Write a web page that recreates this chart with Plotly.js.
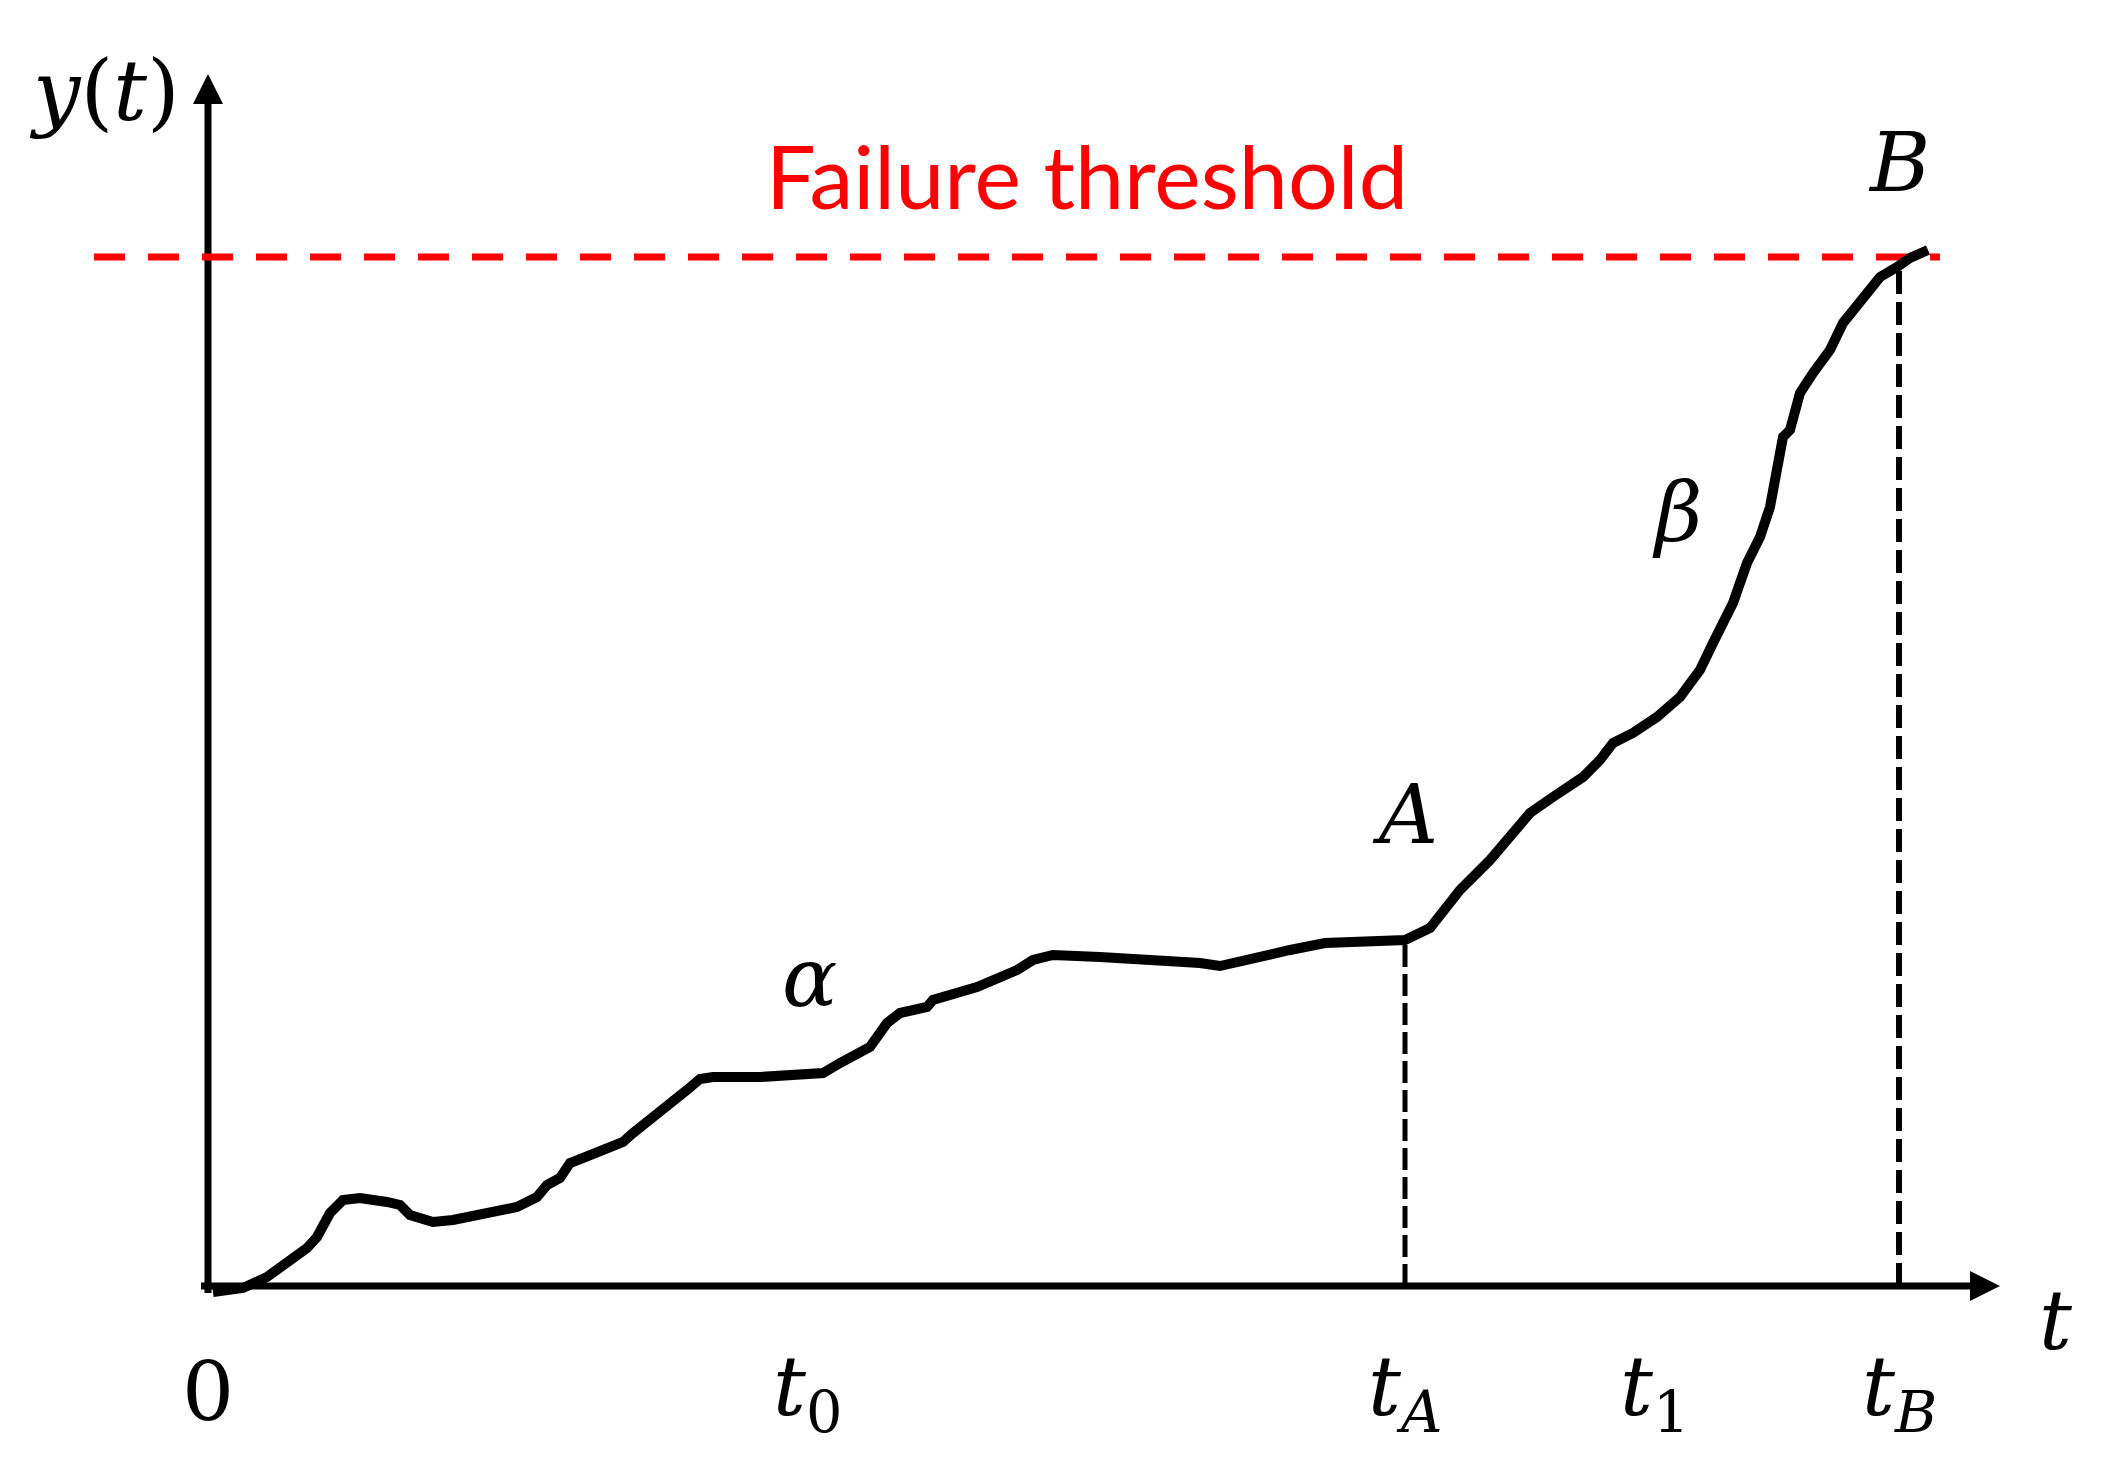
<!DOCTYPE html>
<html>
<head>
<meta charset="utf-8">
<script src="https://cdn.plot.ly/plotly-3.0.1.min.js"></script>
<style>html,body{margin:0;padding:0;background:#fff;}#chart{width:2109px;height:1476px;}</style>
</head>
<body>
<div id="chart"></div>
<script>
// Degradation path y(t)
const tCurve = [0.5,3.5,5.9,7.9,9.9,10.9,12.2,13.5,15.2,17.9,19.2,20.2,22.5,24.5,28.2,30.9,32.9,33.9,35.2,36.2,37.5,39.2,41.5,42.5,44.2,46.5,47.9,49.2,50.5,55.2,61.5,63.2,66.2,67.9,69.2,71.9,72.5,76.9,80.9,82.5,84.5,89.2,96.5,99.2,101.2,104.3,108.2,111.7,119.7,122.2,123.9,125.2,128.2,130.5,132.2,134.5,137.5,139.2,140.5,142.5,144.9,147.2,149.2,150.5,152.5,153.9,155.2,156.2,156.9,157.5,158.2,159.2,160.5,162.2,163.5,164.5,165.9,167.2,168.9,170.2,172.0];
const yCurve = [-0.6,-0.2,0.9,2.3,3.8,4.9,7.3,8.6,8.8,8.4,8.1,7.1,6.4,6.6,7.3,7.9,8.9,10.1,10.8,12.3,12.8,13.4,14.4,15.3,16.6,18.3,19.6,20.7,20.9,20.9,21.3,22.3,23.9,26.3,27.3,27.9,28.6,29.9,31.6,32.6,33.1,32.9,32.6,32.3,32.0,32.6,33.6,34.3,34.6,35.8,37.8,39.6,42.6,45.3,47.3,48.9,50.9,52.6,54.3,55.3,56.9,58.9,61.6,64.3,68.3,72.3,74.9,77.9,81.6,84.9,85.6,89.3,91.3,93.6,96.3,97.6,99.6,100.9,101.9,102.8,103.6];

// Threshold and characteristic times
const thresholdY = 102.9;
const thresholdSpan = [-11.4, 173.2];
const timeA = 119.7, yA = 34.6;
const timeB = 169.1, yB = 102.4;
const tickTimes = [0, 59.9, 119.7, 144.6, 169.1];
const tickLabels = ['0', '<i>t</i><sub>0</sub>', '<i>t</i><sub><i>A</i></sub>', '<i>t</i><sub>1</sub>', '<i>t</i><sub><i>B</i></sub>'];
const axisEndT = 179.2, axisEndY = 121.2;
const axisStart = -0.7;

const mathFont = {family: 'DejaVu Serif', size: 82, color: '#000'};

const traces = [
  // axes
  {x: [axisStart, axisEndT - 1.5], y: [0, 0], mode: 'lines', line: {color: '#000', width: 7}, hoverinfo: 'skip'},
  {x: [0, 0], y: [axisStart, axisEndY - 1.5], mode: 'lines', line: {color: '#000', width: 7}, hoverinfo: 'skip'},
  {x: [axisEndT], y: [0], mode: 'markers', marker: {symbol: 'arrow-right', size: 30, color: '#000', line: {width: 0}}, hoverinfo: 'skip'},
  {x: [0], y: [axisEndY], mode: 'markers', marker: {symbol: 'arrow-up', size: 30, color: '#000', line: {width: 0}}, hoverinfo: 'skip'},
  // threshold and guide lines
  {x: thresholdSpan, y: [thresholdY, thresholdY], mode: 'lines', line: {color: '#ff0000', width: 7, dash: '31px,23px'}, hoverinfo: 'skip'},
  {x: [timeA, timeA], y: [0, yA], mode: 'lines', line: {color: '#000', width: 5, dash: '22px,7px'}, hoverinfo: 'skip'},
  {x: [timeB, timeB], y: [0, yB], mode: 'lines', line: {color: '#000', width: 6, dash: '23px,8px'}, hoverinfo: 'skip'},
  // degradation path
  {x: tCurve, y: yCurve, mode: 'lines', line: {color: '#000', width: 10}, hoverinfo: 'skip'}
];

const annotations = [
  {x: -10.4, y: 119.5, text: '<i>y</i>(<i>t</i>)', showarrow: false, font: {family: 'DejaVu Serif', size: 84, color: '#000'}, xanchor: 'center', yanchor: 'middle'},
  {x: 184.8, y: -3.4, text: '<i>t</i>', showarrow: false, font: mathFont, xanchor: 'center', yanchor: 'middle'},
  {x: 87.9, y: 111.1, text: 'Failure threshold', showarrow: false, font: {family: 'Lato', size: 88, color: '#ff0000'}, xanchor: 'center', yanchor: 'middle'},
  {x: timeB, y: 112.4, text: '<i>B</i>', showarrow: false, font: mathFont, xanchor: 'center', yanchor: 'middle'},
  {x: 119.7, y: 47.2, text: '<i>A</i>', showarrow: false, font: mathFont, xanchor: 'center', yanchor: 'middle'},
  {x: 60.1, y: 30.9, text: '<i>α</i>', showarrow: false, font: mathFont, xanchor: 'center', yanchor: 'middle'},
  {x: 146.9, y: 77.4, text: '<i>β</i>', showarrow: false, font: mathFont, xanchor: 'center', yanchor: 'middle'}
];
tickTimes.forEach((t, i) => {
  annotations.push({x: t, y: -10.6, text: tickLabels[i], showarrow: false, font: mathFont, xanchor: 'center', yanchor: 'middle'});
});

const layout = {
  width: 2109, height: 1476,
  margin: {l: 0, r: 0, t: 0, b: 0},
  paper_bgcolor: '#fff', plot_bgcolor: '#fff',
  showlegend: false,
  xaxis: {range: [-20.8, 190.1], visible: false, fixedrange: true},
  yaxis: {range: [-19.0, 128.6], visible: false, fixedrange: true},
  annotations: annotations
};

Plotly.newPlot('chart', traces, layout, {staticPlot: true, displayModeBar: false});
</script>
</body>
</html>
